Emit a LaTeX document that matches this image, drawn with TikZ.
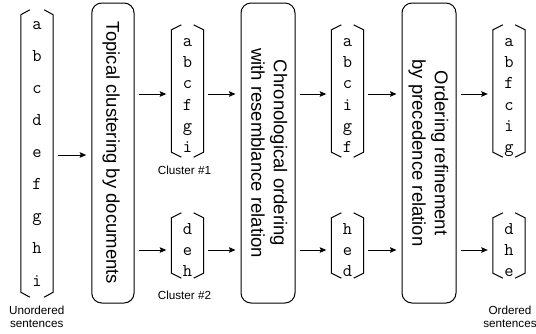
\documentclass[tikz,border=0pt]{standalone}
\usepackage{fontspec}
\setmainfont{Liberation Sans}
\usetikzlibrary{arrows.meta}
\tikzset{
  ln/.style={line width=1pt, black},
  arr/.style={ln, -{Stealth[length=6.5pt,width=5.5pt,inset=1pt]}, shorten <=4.5pt, shorten >=5pt},
  stage/.style={draw, line width=1pt, rounded corners=10pt, inner sep=0pt, align=center,
    font=\fontsize{18.5}{19.5}\selectfont},
  lst/.style={inner sep=0pt, minimum width=32pt, align=center},
  biglst/.style={lst, font=\fontsize{18}{32.1}\selectfont\ttfamily, text height=276pt, text depth=11pt},
  smlst/.style={lst, font=\fontsize{18}{21.2}\selectfont\ttfamily},
  captxt/.style={font=\fontsize{11.7}{13.3}\selectfont, align=center, inner sep=0pt},
}
\newcommand{\sbrack}[2]{%
  \draw[ln] ([xshift=#2]#1.north west) -- ([yshift=-5pt]#1.north west) -- ([yshift=5pt]#1.south west) -- ([xshift=#2]#1.south west);
  \draw[ln] ([xshift=-#2]#1.north east) -- ([yshift=-5pt]#1.north east) -- ([yshift=5pt]#1.south east) -- ([xshift=-#2]#1.south east);}
\newcommand{\lstrut}{\rule[-0.212em]{0pt}{1.117em}}
\begin{document}
\begin{tikzpicture}[x=1pt,y=1pt]
\useasboundingbox (0,0) rectangle (536,-333);
% input list
\node[biglst] (U) at (37,-153.5) {a\\b\\c\\d\\e\\f\\g\\h\\i};
\sbrack{U}{9pt}
\node[captxt] (Ucap) at (36.7,-316.7) {Unordered\\sentences};
% stages
\node[stage, minimum width=42.3pt, minimum height=300pt] (b1) at (112.9,-153)
  {\rotatebox{-90}{\lstrut Topical clustering by documents}};
\node[stage, minimum width=54pt, minimum height=300pt] (b2) at (268,-153)
  {\rotatebox{-90}{\begin{tabular}{@{}c@{}}\lstrut Chronological ordering\\\lstrut with resemblance relation\end{tabular}}};
\node[stage, minimum width=54pt, minimum height=300pt] (b3) at (429,-153)
  {\rotatebox{-90}{\begin{tabular}{@{}c@{}}\lstrut Ordering refinement\\\lstrut by precedence relation\end{tabular}}};
% clusters
\node[smlst, text height=127.5pt, text depth=4.5pt] (c1) at (187.5,-91) {a\\b\\c\\f\\g\\i};
\sbrack{c1}{10pt}
\node[smlst, text height=63.9pt, text depth=1.1pt] (c2) at (187.5,-245.5) {d\\e\\h};
\sbrack{c2}{10pt}
\node[captxt] (c1cap) at (184.5,-170) {Cluster \#1};
\node[captxt] (c2cap) at (184.5,-295) {Cluster \#2};
% after chronological ordering
\node[smlst, text height=127.5pt, text depth=4.5pt] (d1) at (347.5,-91) {a\\b\\c\\i\\g\\f};
\sbrack{d1}{10pt}
\node[smlst, text height=63.9pt, text depth=1.1pt] (d2) at (347.5,-245.5) {h\\e\\d};
\sbrack{d2}{10pt}
% final
\node[smlst, text height=127.5pt, text depth=4.5pt] (e1) at (509,-91) {a\\b\\f\\c\\i\\g};
\sbrack{e1}{10pt}
\node[smlst, text height=63.9pt, text depth=1.1pt] (e2) at (509,-245.5) {d\\h\\e};
\sbrack{e2}{10pt}
\node[captxt] (ecap) at (510,-316.7) {Ordered\\sentences};
% arrows
\coordinate (r0) at (0,-155);
\coordinate (r1) at (0,-94);
\coordinate (r2) at (0,-250);
\draw[arr] (U.east |- r0) -- (b1.west |- r0);
\draw[arr] (b1.east |- r1) -- (c1.west |- r1);
\draw[arr] (b1.east |- r2) -- (c2.west |- r2);
\draw[arr] (c1.east |- r1) -- (b2.west |- r1);
\draw[arr] (c2.east |- r2) -- (b2.west |- r2);
\draw[arr] (b2.east |- r1) -- (d1.west |- r1);
\draw[arr] (b2.east |- r2) -- (d2.west |- r2);
\draw[arr] (d1.east |- r1) -- (b3.west |- r1);
\draw[arr] (d2.east |- r2) -- (b3.west |- r2);
\draw[arr] (b3.east |- r1) -- (e1.west |- r1);
\draw[arr] (b3.east |- r2) -- (e2.west |- r2);
\end{tikzpicture}
\end{document}
